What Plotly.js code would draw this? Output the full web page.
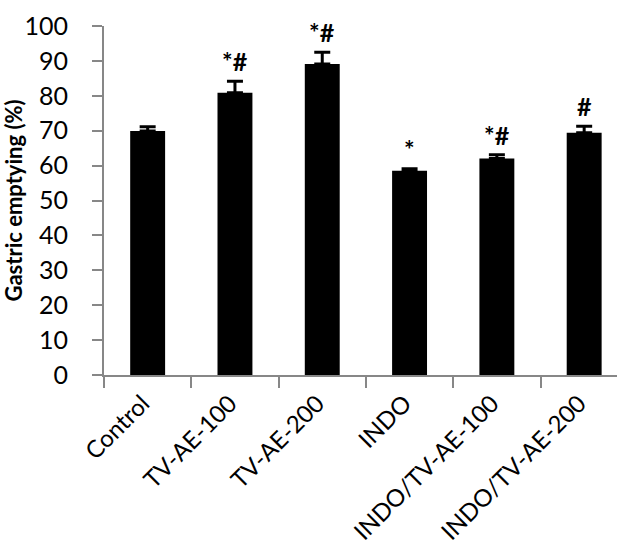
<!DOCTYPE html>
<html>
<head>
<meta charset="utf-8">
<script src="https://cdn.plot.ly/plotly-3.0.1.min.js"></script>
<style>html,body{margin:0;padding:0;background:#fff;}#chart{width:617px;height:549px;}</style>
</head>
<body>
<div id="chart"></div>
<script>
const categories = ["Control", "TV-AE-100", "TV-AE-200", "INDO", "INDO/TV-AE-100", "INDO/TV-AE-200"];
const values = [69.9, 80.9, 89.1, 58.5, 62.0, 69.4];
const errors = [1.2, 3.3, 3.4, 0.6, 1.1, 1.9];
const marks = ["", "*#", "*#", "*", "*#", "#"];
const yTicks = [0, 10, 20, 30, 40, 50, 60, 70, 80, 90, 100];

const FONT = "Lato, Calibri, Carlito, 'Open Sans', sans-serif";
const AXIS_GRAY = "#878787";

const trace = {
  type: "bar",
  x: categories,
  y: values,
  width: 0.4,
  marker: {color: "#000000", line: {width: 0}},
  error_y: {
    type: "data",
    array: errors,
    arrayminus: errors.map(() => 0),
    symmetric: false,
    color: "#000000",
    thickness: 3,
    width: 8
  },
  hoverinfo: "x+y"
};

const annotations = categories.map((c, i) => ({
  x: c,
  y: values[i] + errors[i],
  xref: "x",
  yref: "y",
  text: marks[i],
  showarrow: false,
  yanchor: "bottom",
  yshift: 3,
  font: {family: FONT, size: 25, color: "#000000", weight: "bold"}
})).filter(a => a.text !== "");

const layout = {
  width: 617,
  height: 549,
  margin: {l: 104, r: 0, t: 26, b: 174, pad: 0},
  paper_bgcolor: "#ffffff",
  plot_bgcolor: "#ffffff",
  showlegend: false,
  bargap: 0.6,
  font: {family: FONT, size: 24, color: "#000000"},
  xaxis: {
    type: "category",
    range: [-0.5, 5.376],
    showline: true,
    linecolor: AXIS_GRAY,
    linewidth: 2,
    ticks: "outside",
    tickson: "boundaries",
    ticklen: 11,
    tickwidth: 2,
    tickcolor: AXIS_GRAY,
    tickangle: -45,
    ticklabelstandoff: 3,
    ticklabelshift: -5,
    showgrid: false,
    zeroline: false,
    tickfont: {family: FONT, size: 24, color: "#000000"},
    automargin: false
  },
  yaxis: {
    range: [0, 100],
    tickvals: yTicks,
    ticktext: yTicks.map(String),
    showline: true,
    linecolor: AXIS_GRAY,
    linewidth: 2,
    ticks: "outside",
    ticklen: 10,
    tickwidth: 2,
    tickcolor: AXIS_GRAY,
    ticklabelstandoff: 19,
    showgrid: false,
    zeroline: false,
    tickfont: {family: FONT, size: 25, color: "#000000"},
    title: {text: "Gastric emptying (%)", font: {family: FONT, size: 22, color: "#000000", weight: "bold"}, standoff: 0},
    automargin: false
  },
  annotations: annotations
};

Plotly.newPlot("chart", [trace], layout, {staticPlot: true, displayModeBar: false});
</script>
</body>
</html>
